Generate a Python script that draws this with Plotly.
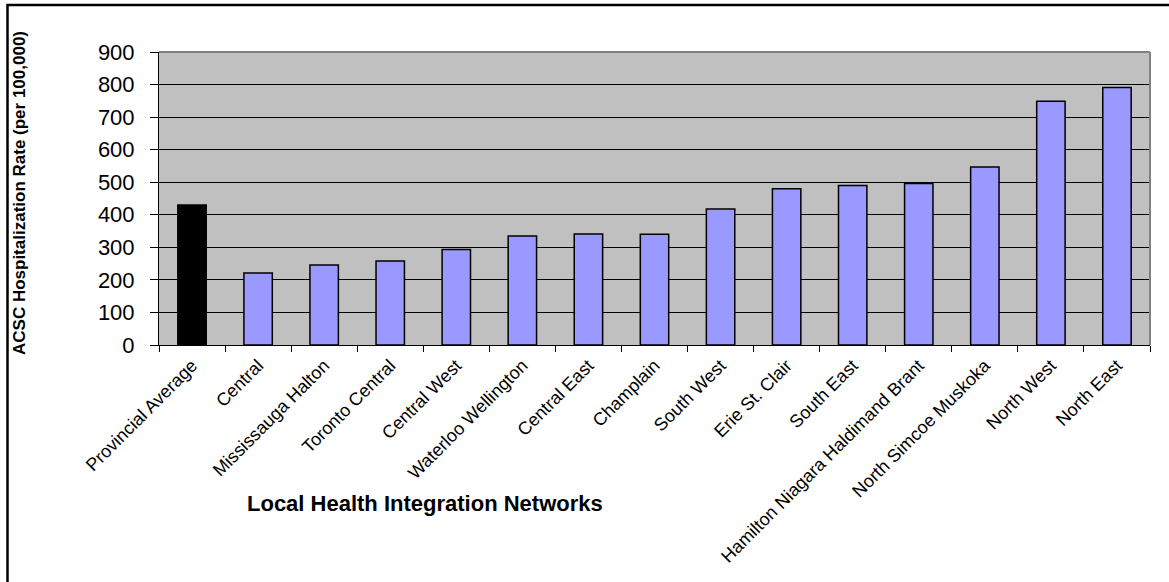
import plotly.graph_objects as go

# ACSC hospitalization rates by Local Health Integration Network
networks = [
    "Provincial Average", "Central", "Mississauga Halton", "Toronto Central",
    "Central West", "Waterloo Wellington", "Central East", "Champlain",
    "South West", "Erie St. Clair", "South East", "Hamilton Niagara Haldimand Brant",
    "North Simcoe Muskoka", "North West", "North East",
]
rates = [430, 221, 246, 258, 293, 335, 341, 340, 418, 480, 490, 496, 547, 749, 791]
bar_colors = ["#000000"] + ["#9999FF"] * (len(networks) - 1)

W, H = 1169, 582
L, R, T, B = 159, 19, 52, 237
pw, ph = W - L - R, H - T - B


def px_x(x):
    return (x - L) / pw


def px_y(y):
    return (H - B - y) / ph


fig = go.Figure(
    go.Bar(
        x=networks,
        y=rates,
        marker=dict(color=bar_colors, line=dict(color="#000000", width=1.5)),
    )
)

font = "Liberation Sans, Arial, sans-serif"

fig.update_layout(
    width=W,
    height=H,
    margin=dict(l=L, r=R, t=T, b=B, autoexpand=False),
    paper_bgcolor="#FFFFFF",
    plot_bgcolor="#C0C0C0",
    bargap=0.57,
    showlegend=False,
    font=dict(family=font, color="#000000"),
    xaxis=dict(
        type="category",
        tickangle=-45,
        tickfont=dict(size=18),
        showline=True,
        linecolor="#000000",
        linewidth=1,
        ticks="outside",
        tickson="boundaries",
        ticklen=6,
        tickcolor="#000000",
        ticklabelstandoff=2,
        showgrid=False,
        automargin=False,
    ),
    yaxis=dict(
        range=[0, 900],
        dtick=100,
        tickfont=dict(size=22),
        showline=True,
        linecolor="#000000",
        linewidth=1,
        ticks="outside",
        ticklen=8,
        tickcolor="#000000",
        ticklabelstandoff=11,
        showgrid=True,
        gridcolor="#000000",
        gridwidth=1,
        zeroline=False,
        automargin=False,
    ),
    shapes=[
        # plot-area frame on top and right
        dict(type="line", xref="paper", yref="paper", x0=0, x1=1, y0=1, y1=1,
             line=dict(color="#808080", width=2)),
        dict(type="line", xref="paper", yref="paper", x0=1, x1=1, y0=0, y1=1,
             line=dict(color="#808080", width=2)),
        # outer chart border
        dict(type="rect", xref="paper", yref="paper",
             x0=px_x(7.5), x1=px_x(W + 10), y0=px_y(H + 10), y1=px_y(5),
             line=dict(color="#000000", width=2.5), fillcolor="rgba(0,0,0,0)",
             layer="above"),
    ],
    annotations=[
        dict(text="<b>ACSC Hospitalization Rate (per 100,000)</b>",
             xref="paper", yref="paper", x=px_x(19), y=px_y(193),
             textangle=-90, showarrow=False, font=dict(size=17),
             xanchor="center", yanchor="middle"),
        dict(text="<b>Local Health Integration Networks</b>",
             xref="paper", yref="paper", x=px_x(425), y=px_y(504),
             showarrow=False, font=dict(size=22),
             xanchor="center", yanchor="middle"),
    ],
)

fig.write_html("out.html")
